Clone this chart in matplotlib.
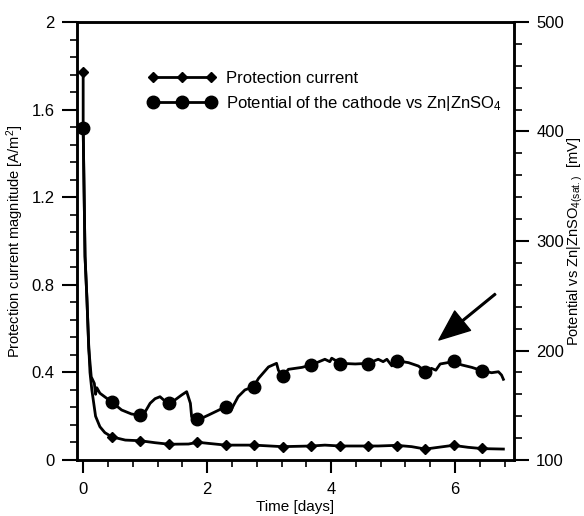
import matplotlib.pyplot as plt
from matplotlib.lines import Line2D
from matplotlib.ticker import MultipleLocator, FormatStrFormatter

plt.rcParams["font.family"] = ["Liberation Sans", "DejaVu Sans"]
plt.rcParams["mathtext.fontset"] = "custom"
plt.rcParams["mathtext.rm"] = "Liberation Sans"
plt.rcParams["mathtext.it"] = "Liberation Sans:italic"

# protection current [A/m2], traced line
t_cur = [0, 0, 0.03, 0.06, 0.09, 0.11, 0.14, 0.17, 0.20, 0.27, 0.35, 0.46, 0.68,
         0.92, 1.16, 1.39, 1.70, 1.85, 2.02, 2.30, 2.76, 3.21, 3.68, 3.90, 4.15,
         4.60, 4.76, 5.06, 5.30, 5.52, 5.73, 5.97, 6.21, 6.44, 6.78]
i_cur = [1.773, 1.515, 0.93, 0.74, 0.52, 0.40, 0.32, 0.26, 0.20, 0.152, 0.125,
         0.106, 0.091, 0.088, 0.079, 0.072, 0.073, 0.081, 0.076, 0.068, 0.068,
         0.061, 0.064, 0.068, 0.064, 0.064, 0.064, 0.067, 0.061, 0.050, 0.058,
         0.067, 0.058, 0.052, 0.050]

# cathode potential [mV], traced line
t_pot = [0, 0.03, 0.06, 0.09, 0.13, 0.18, 0.20, 0.22, 0.27, 0.46, 0.62, 0.78,
         0.92, 1.00, 1.08, 1.16, 1.24, 1.30, 1.38, 1.48, 1.59, 1.67, 1.73, 1.75,
         1.85, 2.02, 2.24, 2.30, 2.37, 2.50, 2.61, 2.75, 2.83, 2.99, 3.12, 3.15,
         3.22, 3.31, 3.53, 3.68, 3.90, 3.98, 4.01, 4.15, 4.39, 4.60, 4.76, 4.84,
         4.90, 4.98, 5.06, 5.25, 5.41, 5.52, 5.62, 5.69, 5.76, 5.97, 6.11, 6.27,
         6.44, 6.59, 6.70, 6.75, 6.78]
e_pot = [403, 286, 248, 202, 176, 170, 160, 166, 161, 153, 145.7, 142,
         141, 144, 151.8, 156, 157.8, 154.8, 152.3, 154.8, 159.4, 162.4, 151.8, 139.5,
         136.5, 141, 147, 148.7, 144, 157.8, 164, 167, 174.6, 185, 188.3, 182,
         176, 182.8, 184.6, 186.8, 192, 189.8, 193, 188.3, 187.7, 188.3, 192, 189.8,
         192, 186, 190.7, 188.9, 185.8, 180.6, 183.7, 182, 187.7, 189.8, 186.8, 184.6,
         181.5, 179.7, 180.6, 177.6, 173.7]

# marker positions
t_mk = [0, 0.46, 0.92, 1.38, 1.84, 2.30, 2.76, 3.22, 3.68, 4.14, 4.60, 5.06, 5.52, 5.98, 6.44]
cur_mk = [1.773, 0.106, 0.087, 0.073, 0.082, 0.067, 0.067, 0.061, 0.062, 0.062,
          0.062, 0.066, 0.050, 0.067, 0.054]
pot_mk = [403, 153, 141, 152, 137, 148, 167, 177, 187, 188, 188, 190, 180, 190, 181]

fig = plt.figure(figsize=(5.84, 5.16), dpi=100)
ax = fig.add_axes([0.1318, 0.1085, 0.7482, 0.8489])
ax2 = ax.twinx()

lw = 2.0
ax.plot(t_cur, i_cur, color="black", lw=lw)
ax.plot(t_mk, cur_mk, linestyle="none", marker="D", ms=5.5, color="black")
ax2.plot(t_pot, e_pot, color="black", lw=lw)
ax2.plot(t_mk, pot_mk, linestyle="none", marker="o", ms=9, color="black")

ax.set_xlim(-0.1, 6.95)
ax.set_ylim(0, 2)
ax2.set_ylim(100, 500)

ax.xaxis.set_major_locator(MultipleLocator(2))
ax.xaxis.set_minor_locator(MultipleLocator(0.4))
ax.yaxis.set_major_locator(MultipleLocator(0.4))
ax.yaxis.set_minor_locator(MultipleLocator(0.08))
ax.yaxis.set_major_formatter(FormatStrFormatter("%g"))
ax.xaxis.set_major_formatter(FormatStrFormatter("%g"))
ax2.yaxis.set_major_locator(MultipleLocator(100))
ax2.yaxis.set_minor_locator(MultipleLocator(20))

for a in (ax, ax2):
    for s in a.spines.values():
        s.set_linewidth(1.8)
    a.tick_params(which="major", direction="out", width=1.5, labelsize=12, pad=5)
    a.tick_params(which="minor", direction="out", width=1.2)
ax.tick_params(axis="y", which="major", length=11)
ax.tick_params(axis="y", which="minor", length=5)
ax.tick_params(axis="x", which="major", length=9, pad=7)
ax.tick_params(axis="x", which="minor", length=5)
ax2.tick_params(axis="y", which="major", length=11)
ax2.tick_params(axis="y", which="minor", length=6)

ax.set_xlabel("Time [days]", fontsize=11, labelpad=2)
ax.set_ylabel(r"Protection current magnitude [A/m$^2$]", fontsize=10.5, labelpad=4)
ax2.set_ylabel(r"Potential vs Zn|ZnSO$_{\mathrm{4(sat.)}}$  [mV]", fontsize=10.5,
               rotation=90, labelpad=1)

ax.annotate("", xy=(5.74, 0.548), xytext=(6.65, 0.758),
            arrowprops=dict(facecolor="black", edgecolor="black", width=1.2,
                            headwidth=18, headlength=22, shrink=0))

handles = [Line2D([], [], color="black", lw=lw, marker="D", ms=5.5),
           Line2D([], [], color="black", lw=lw, marker="o", ms=9)]
labels = ["Protection current", r"Potential of the cathode vs Zn|ZnSO$_4$"]
fig.legend(handles, labels, loc="upper left", bbox_to_anchor=(0.2534, 0.862),
           frameon=False, numpoints=3, handlelength=4.1, handletextpad=0.6,
           labelspacing=0.45, borderpad=0, borderaxespad=0, fontsize=12)

fig.savefig("out.png", dpi=100)
